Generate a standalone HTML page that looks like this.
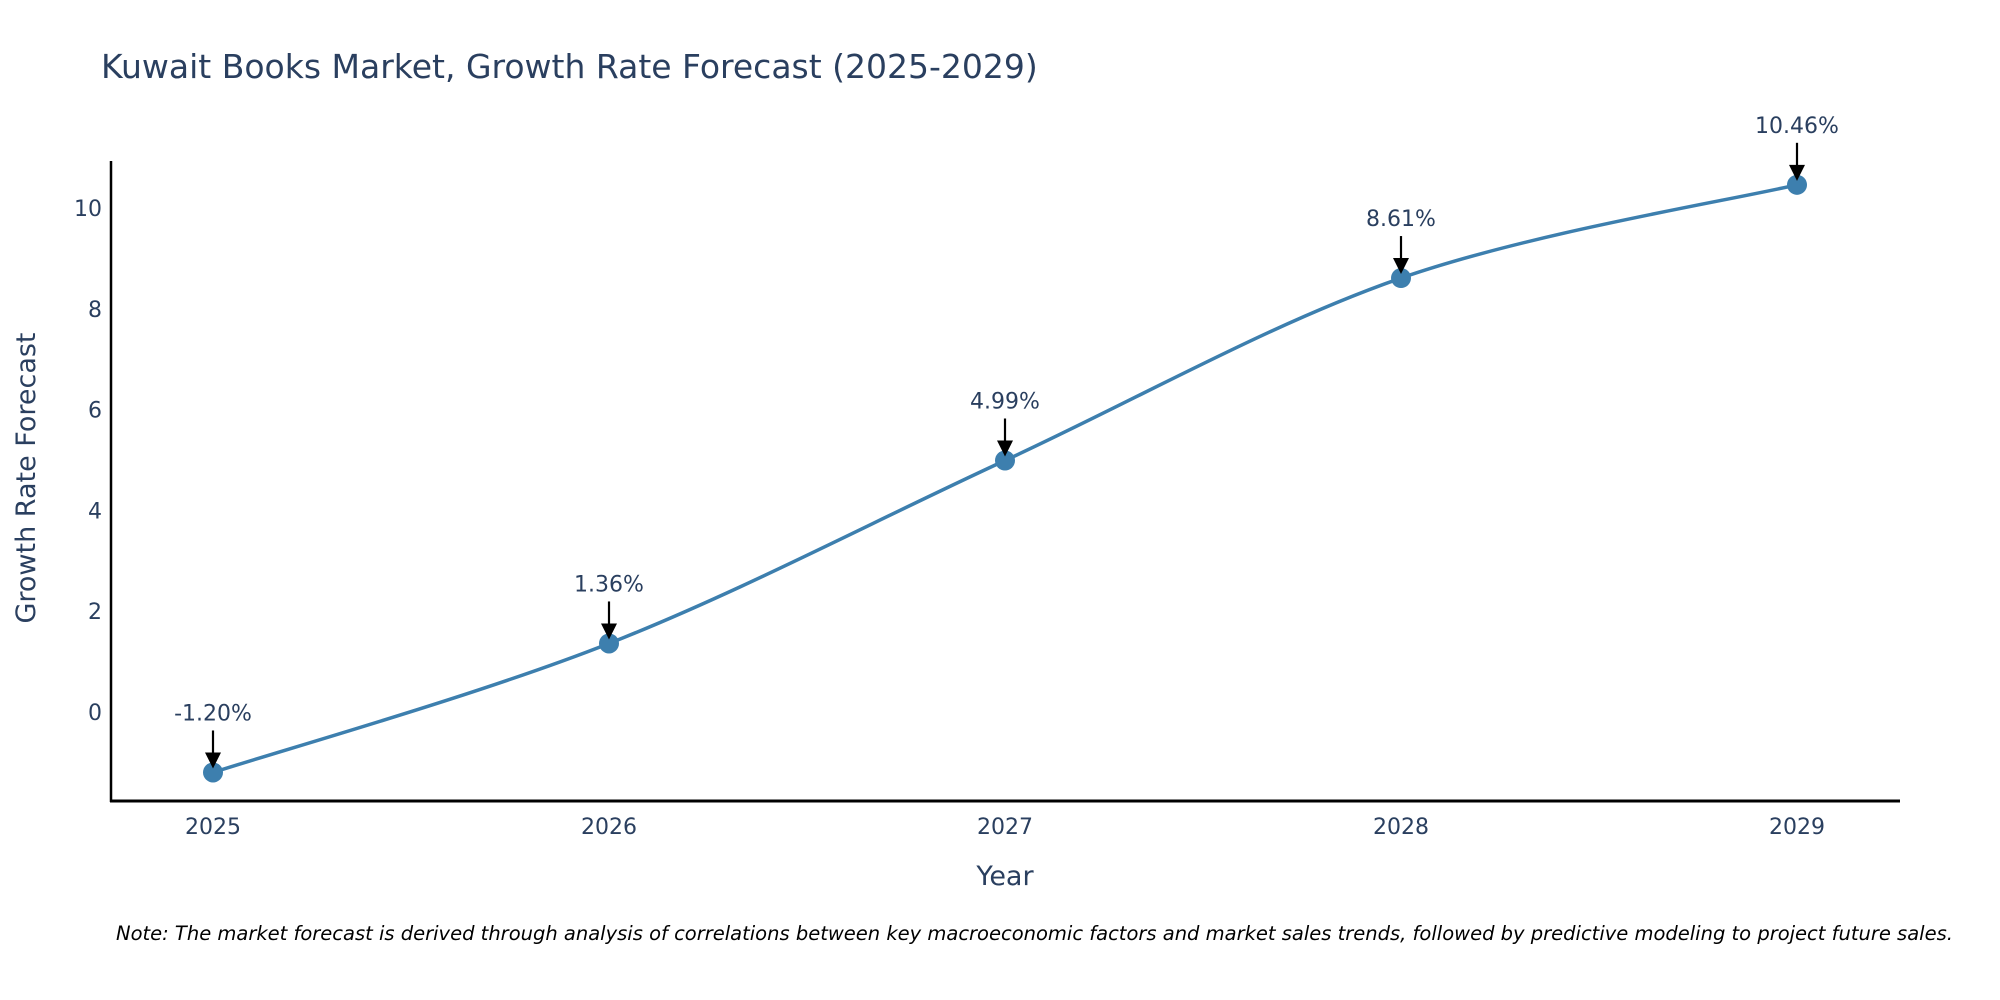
<!DOCTYPE html>
<html><head><meta charset="utf-8"><style>
html,body{margin:0;padding:0;background:#fff;}
svg{display:block;font-family:"DejaVu Sans","Liberation Sans",sans-serif;}
</style></head><body>
<svg id="chart" width="2000" height="1000" viewBox="0 0 2000 1000">
<rect width="2000" height="1000" fill="#fff"/>
<text x="101" y="78" font-size="33" fill="#2a3f5f">Kuwait Books Market, Growth Rate Forecast (2025-2029)</text>
<g id="yticks"></g>
<g id="xticks"></g>
<line x1="111" y1="161" x2="111" y2="802" stroke="#000" stroke-width="2.5"/>
<line x1="110" y1="801" x2="1900" y2="801" stroke="#000" stroke-width="3"/>
<text x="1005" y="885" font-size="27" fill="#2a3f5f" text-anchor="middle">Year</text>
<text x="35" y="478" font-size="27" fill="#2a3f5f" text-anchor="middle" transform="rotate(-90 35 478)">Growth Rate Forecast</text>
<g id="series"></g>
<g id="annots"></g>
<text x="116" y="940" font-size="19.5" font-style="italic" fill="#000">Note: The market forecast is derived through analysis of correlations between key macroeconomic factors and market sales trends, followed by predictive modeling to project future sales.</text>
</svg>
<script>
const years = ["2025","2026","2027","2028","2029"];
const growth = [-1.20, 1.36, 4.99, 8.61, 10.46];
const labels = ["-1.20%","1.36%","4.99%","8.61%","10.46%"];
const yTicks = [0, 2, 4, 6, 8, 10];

const NS = "http://www.w3.org/2000/svg";
function xS(i){ return 213 + i * (1797 - 213) / (years.length - 1); }
function yS(v){ return 712 - v * 50.4; }
function mk(tag, attrs, parent){
  const e = document.createElementNS(NS, tag);
  for (const k in attrs) e.setAttribute(k, attrs[k]);
  parent.appendChild(e); return e;
}
const yt = document.getElementById('yticks');
yTicks.forEach(v => {
  const t = mk('text', {x: 102, y: yS(v) + 8, 'font-size': 22, fill: '#2a3f5f', 'text-anchor': 'end'}, yt);
  
  
  t.textContent = v;
});
const xt = document.getElementById('xticks');
years.forEach((y, i) => {
  const t = mk('text', {x: xS(i), y: 834, 'font-size': 22, fill: '#2a3f5f', 'text-anchor': 'middle'}, xt);
  
  
  t.textContent = y;
});
const pts = growth.map((v, i) => [xS(i), yS(v)]);
let d = `M${pts[0][0]},${pts[0][1]}`;
for (let i = 0; i < pts.length - 1; i++) {
  const p0 = pts[Math.max(i - 1, 0)], p1 = pts[i], p2 = pts[i + 1], p3 = pts[Math.min(i + 2, pts.length - 1)];
  const s = 6;
  const c1 = [p1[0] + (p2[0] - p0[0]) / s, p1[1] + (p2[1] - p0[1]) / s];
  const c2 = [p2[0] - (p3[0] - p1[0]) / s, p2[1] - (p3[1] - p1[1]) / s];
  d += ` C${c1[0]},${c1[1]} ${c2[0]},${c2[1]} ${p2[0]},${p2[1]}`;
}
const ser = document.getElementById('series');
const line = mk('path', {d: d, fill: 'none', stroke: '#3d7fae', 'stroke-width': 3.5}, ser);


pts.forEach(p => {
  const c = mk('circle', {cx: p[0], cy: p[1], r: 10, fill: '#3d7fae'}, ser);
  
  
});
const an = document.getElementById('annots');
pts.forEach((p, i) => {
  const t = mk('text', {x: p[0], y: p[1] - 52, 'font-size': 22, fill: '#2a3f5f', 'text-anchor': 'middle'}, an);
  
  
  t.textContent = labels[i];
  const l = mk('line', {x1: p[0], y1: p[1] - 42, x2: p[0], y2: p[1] - 14, stroke: '#000', 'stroke-width': 2.2}, an);
  
  
  const h = mk('path', {d: `M${p[0]-8},${p[1]-20} L${p[0]+8},${p[1]-20} L${p[0]},${p[1]-4} Z`, fill: '#000'}, an);
  
  
});
</script>
</body></html>
